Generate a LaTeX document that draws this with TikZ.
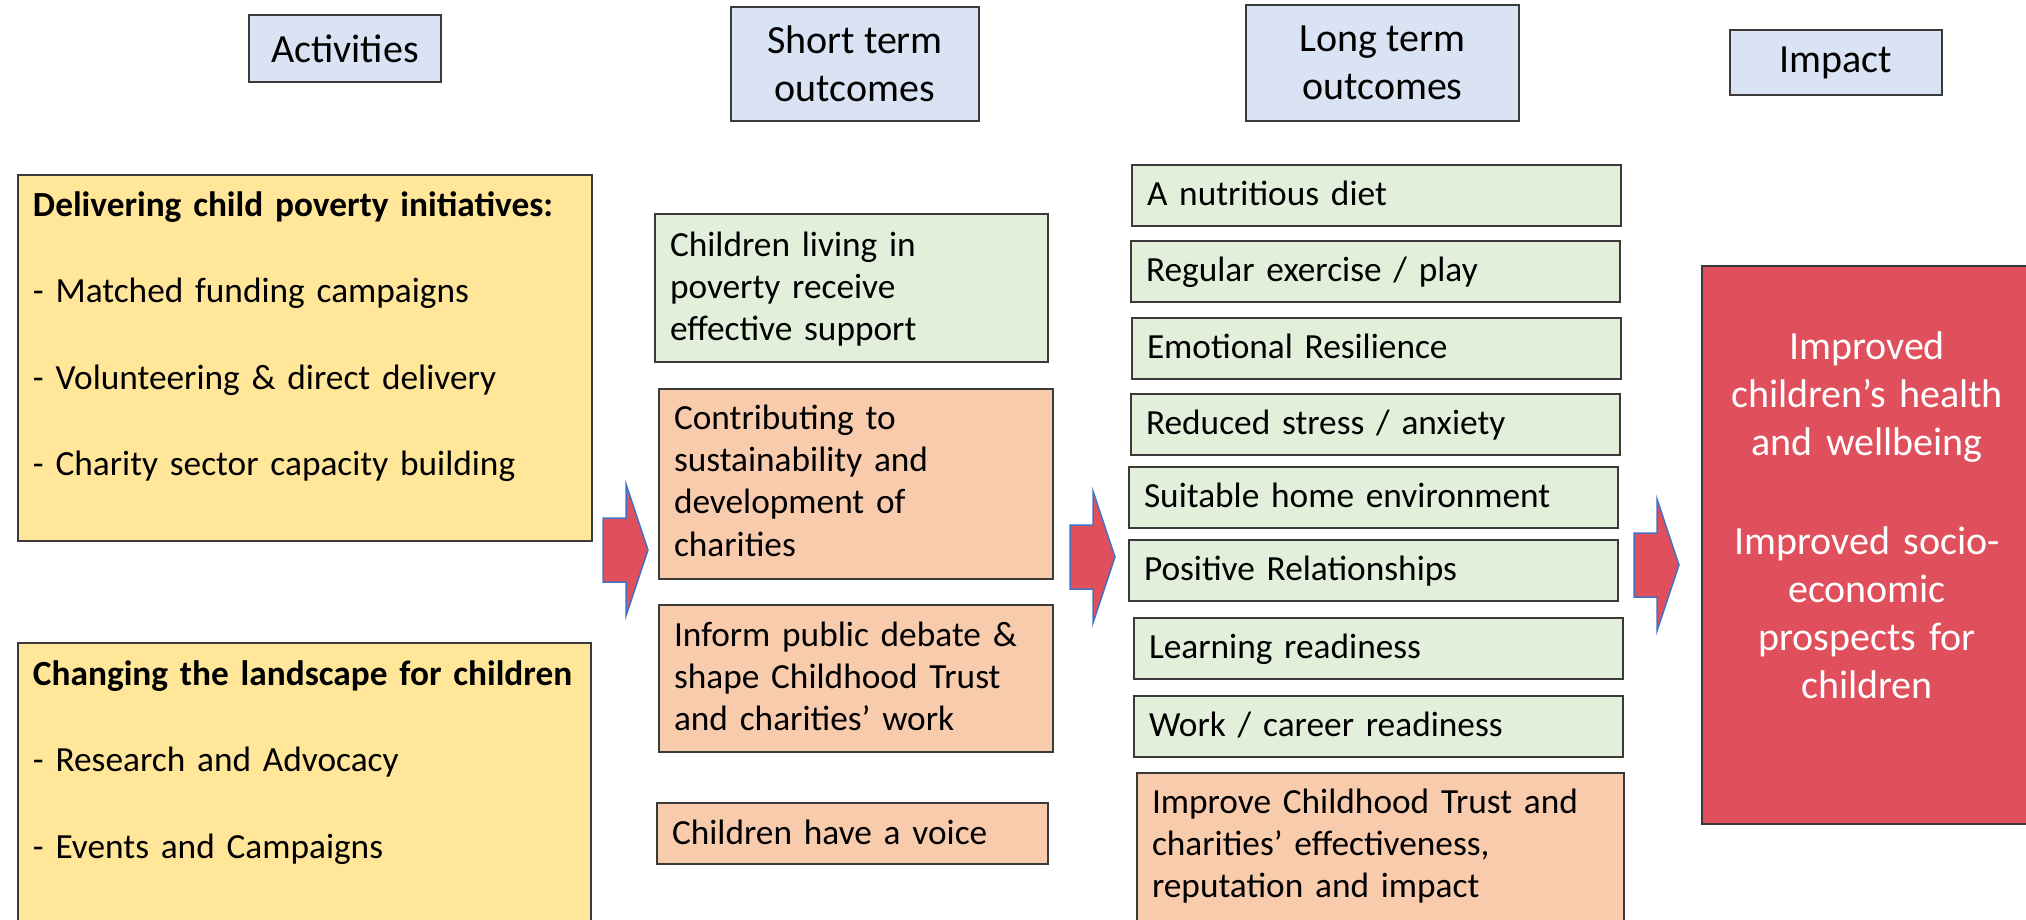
\documentclass[tikz,border=0pt]{standalone}
\usepackage{fontspec}
\setmainfont{Carlito}

\definecolor{headblue}{HTML}{DAE3F3}
\definecolor{actyellow}{HTML}{FFE699}
\definecolor{shortgreen}{HTML}{E2EFDA}
\definecolor{peach}{HTML}{F8CBAD}
\definecolor{impactred}{HTML}{E0505C}
\definecolor{arrowblue}{HTML}{4472C4}
\definecolor{linegray}{HTML}{3A3A3A}

\newcommand\bodyfont{\fontsize{10.05pt}{12.05pt}\selectfont\hyphenpenalty=10000\exhyphenpenalty=10000}
\newcommand\headfont{\fontsize{11.38pt}{13.66pt}\selectfont\hyphenpenalty=10000}

\tikzset{
  box/.style={draw=linegray, line width=0.2mm, anchor=north west, inner xsep=1.5mm, inner ysep=0pt, align=left, font=\bodyfont},
  actbox/.style={box, fill=actyellow},
  shortbox/.style={box, fill=shortgreen},
  peachbox/.style={box, fill=peach},
  longbox/.style={box, fill=shortgreen, text width=45.9mm, text height=4.05mm, text depth=2.05mm},
  headbox/.style={draw=linegray, line width=0.2mm, fill=headblue, align=center, font=\headfont},
  blockarrow/.style={fill=impactred, draw=arrowblue, line width=0.15mm, line join=miter},
  pics/bigarrow/.style={code={
    \draw[blockarrow] (0,-32) -- (23,-32) -- (23,-66) -- (45,0) -- (23,66) -- (23,32) -- (0,32) -- cycle;
  }}
}

\begin{document}
\begin{tikzpicture}[x=0.1mm, y=-0.1mm]

\path[use as bounding box, fill=white] (0,0) rectangle (2026,919); % page

% Column headings
\node[headbox, minimum width=19.2mm, minimum height=6.7mm] (actHead) at (345,48.5) {Activities};
\node[headbox, minimum width=24.8mm, minimum height=11.4mm] (shortHead) at (855,64) {Short term\\outcomes};
\node[headbox, minimum width=27.3mm, minimum height=11.6mm] (longHead) at (1382.5,63) {Long term\\outcomes};
\node[headbox, minimum width=21.2mm, minimum height=6.5mm] (impHead) at (1836,62.5) {Impact};

% Activities
\node[actbox, text width=54.4mm, text height=4.1mm, text depth=32.5mm] (deliver) at (17,174)
  {\textbf{Delivering child poverty initiatives:}\\[4.42mm]- Matched funding campaigns\\[4.42mm]- Volunteering \& direct delivery\\[4.42mm]- Charity sector capacity building};
\node[actbox, text width=54.3mm, text height=4.2mm, text depth=27.6mm] (landscape) at (17,642)
  {\textbf{Changing the landscape for children}\\[4.42mm]- Research and Advocacy\\[4.42mm]- Events and Campaigns};

% Short term outcomes
\node[shortbox, text width=36.3mm, text height=4.2mm, text depth=10.6mm] (living) at (654,213) {Children living in\\poverty receive\\effective support};
\node[peachbox, text width=36.4mm, text height=4.0mm, text depth=15.0mm] (sustain) at (658,388) {Contributing to\\sustainability and\\development of\\charities};
\node[peachbox, text width=36.4mm, text height=4.1mm, text depth=10.6mm] (debate) at (658,604) {Inform public debate \&\\shape Childhood Trust\\and charities’ work};
\node[peachbox, text width=36.1mm, text height=4.1mm, text depth=2.0mm] (voice) at (656,802) {Children have a voice};

% Long term outcomes
\node[longbox] (diet) at (1131,164) {A nutritious diet};
\node[longbox] (exercise) at (1130,240) {Regular exercise / play};
\node[longbox] (resilience) at (1131,317) {Emotional Resilience};
\node[longbox] (stress) at (1130,393) {Reduced stress / anxiety};
\node[longbox] (home) at (1128,466) {Suitable home environment};
\node[longbox] (relations) at (1128,539) {Positive Relationships};
\node[longbox] (learning) at (1133,617) {Learning readiness};
\node[longbox] (career) at (1133,695) {Work / career readiness};
\node[peachbox, text width=45.7mm, text height=4.0mm, text depth=15.0mm] (trust) at (1136,772)
  {Improve Childhood Trust and\\charities’ effectiveness,\\reputation and impact};

% Impact
\node[box, fill=impactred, text=white, align=center, font=\headfont, text width=30mm, text height=9.3mm, text depth=46.5mm] (impact) at (1701,265)
  {Improved\\children’s health\\and wellbeing\\[5.1mm]Improved socio-\\economic\\prospects for\\children};

% Block arrows between the columns
\pic at (603,550) {bigarrow};
\pic at (1070,557) {bigarrow};
\pic at (1634,565) {bigarrow};

\end{tikzpicture}
\end{document}
